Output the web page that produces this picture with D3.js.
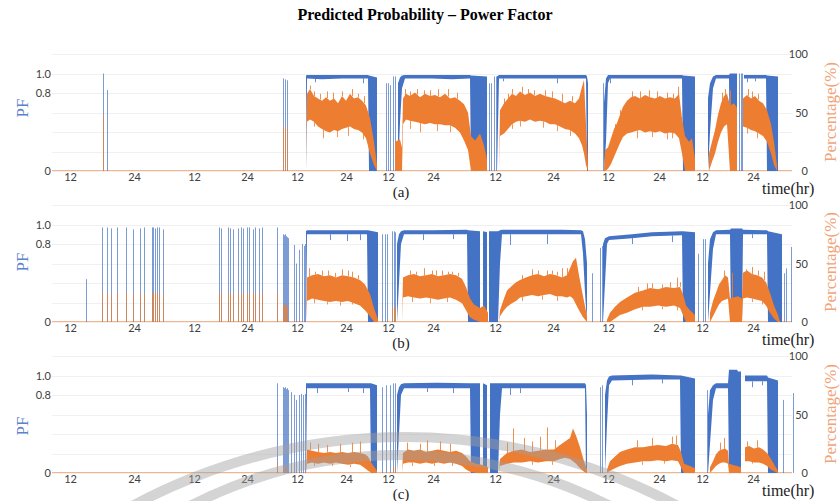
<!DOCTYPE html>
<html>
<head>
<meta charset="utf-8">
<script src="https://cdnjs.cloudflare.com/ajax/libs/d3/7.8.5/d3.min.js"></script>
<style>
  body { margin: 0; background: #fff; }
  .tick text { font-family: Lato, "Open Sans", sans-serif; }
</style>
</head>
<body>
<svg id="chart" width="840" height="501"></svg>
<script>
// x is the sample index (one sample per bin), ticks mark the hour of day
var tickIndex  = [18, 82, 142, 195, 245, 294, 336, 381, 443, 501, 556, 607, 650, 701];
var tickLabels = ["12","24","12","24","12","24","12","24","12","24","12","24","12","24"];
var pfTicks  = [0, 0.8, 1.0];
var pctTicks = [0, 50, 100];

// ---- (a) ----  bands are [sample, low, high], null = no data
var blueBandA = [
  [254,0,0.98],[255,0.95,0.985],[270,0.94,0.985],[290,0.95,0.985],[316,0.95,0.985],[317,0,0.98],[325,0,0.96], null,
  [346,0,0.9],[348,0.5,0.96],[350,0.85,0.98],[353,0.95,0.985],[380,0.95,0.985],[400,0.94,0.985],[418,0.95,0.985],[419,0,0.98],[435,0,0.97], null,
  [445,0,0.97],[447,0.95,0.985],[480,0.95,0.985],[510,0.95,0.985],[534,0.95,0.985],[535,0,0.97],[536,0,0.9], null,
  [552,0,0.7],[554,0.3,0.95],[556,0.9,0.985],[558,0.95,0.985],[600,0.95,0.985],[630,0.95,0.985],[631,0,0.98],[643,0,0.97], null,
  [656,0,0.75],[658,0.4,0.9],[661,0.85,0.97],[664,0.95,0.985],[677,0.95,0.985],[678,0,1.0],[685,0,1.0], null,
  [692,0.95,0.985],[714,0.95,0.985],[715,0,0.98],[726,0,0.97], null
];
var orangeBandA = [
  [254,0,0],[255,42,66],[258,44,70],[262,42,64],[266,38,62],[270,36,60],[274,34,63],[278,33,60],[282,35,62],[286,34,58],[290,36,64],[294,37,60],[298,38,66],[302,36,62],[306,35,63],[310,33,60],[314,28,56],[318,15,45],[322,5,25],[325,0,5], null,
  [343,0,25],[348,0,27],[350,0,20],[351,40,62],[354,44,66],[358,43,64],[363,42,67],[368,41,63],[373,40,66],[378,41,64],[383,40,65],[388,40,63],[393,39,66],[398,39,62],[403,37,63],[408,33,60],[412,26,57],[416,18,50],[419,0,30],[423,0,26],[428,0,32],[432,0,22],[435,0,10], null,
  [447,0,0],[448,30,52],[452,32,58],[456,36,62],[460,40,66],[464,42,64],[468,43,68],[473,42,65],[478,44,67],[483,42,64],[488,43,66],[493,42,64],[498,40,63],[503,40,62],[508,38,60],[513,36,58],[518,35,60],[523,32,58],[527,28,62],[530,22,72],[532,15,78],[534,5,40],[536,0,5], null,
  [552,0,0],[553,0,18],[556,2,20],[559,6,28],[562,12,36],[565,18,41],[568,24,48],[571,29,55],[575,32,60],[579,33,63],[583,34,64],[588,35,62],[593,33,65],[598,34,63],[603,33,62],[608,34,64],[613,32,62],[618,33,63],[623,32,62],[627,28,66],[630,15,45],[633,0,30],[637,0,25],[640,0,28],[643,0,10], null,
  [657,0,15],[660,8,25],[663,15,35],[666,25,48],[669,33,58],[672,38,64],[675,40,66],[678,0,56],[682,0,58],[685,0,54], null,
  [691,38,62],[695,37,65],[699,35,62],[703,34,64],[707,32,60],[711,30,58],[715,25,52],[719,15,40],[722,5,25],[725,0,5], null
];
var blueSpikesA   = [[51,1.0],[55,0.83],[231,0.95],[233,0.94],[235,0.93],[334,0.9],[336,0.9],[338,0.88],[341,0.97],[343,0.97],
                     [437,0.9],[439,0.9],[442,0.97],[444,0.97],[551,0.9],[687,1.0],[689,1.0],[690,1.0]];
var blueDipsA     = [[263,0.91],[311,0.9],[451,0.92],[505,0.9],[558,0.9],[695,0.91],[703,0.92]];
var orangeSpikesA = [[51,48],[231,38],[233,38],[235,36]];
var orangePeaksA  = [[258,73],[262,68],[268,66],[275,68],[281,67],[290,68],[300,70],[306,66],[312,64],[353,70],[358,68],[365,70],[372,69],[378,69],
                     [386,70],[396,70],[405,67],[452,62],[456,66],[460,70],[470,72],[476,70],[482,69],[493,69],[500,68],[510,66],[520,64],
                     [563,40],[568,52],[580,68],[588,68],[597,69],[605,68],[615,67],[621,66],[626,72],[670,67],[673,70],[678,69],[696,70],[700,68],[706,66]];
var orangeDipsA   = [[262,38],[271,28],[285,29],[296,30],[311,27],[358,36],[368,33],[385,34],[398,33],[460,36],[468,38],[491,37],[505,34],[518,30],
                     [585,28],[600,29],[615,27],[620,28],[695,32],[705,28]];

// ---- (b) ----
var blueBandB = [
  [254,0,0.93],[255,0.9,0.94],[285,0.9,0.94],[315,0.9,0.94],[316,0,0.94],[326,0,0.92], null,
  [345,0,0.8],[347,0.4,0.9],[349,0.8,0.93],[352,0.9,0.94],[380,0.9,0.94],[415,0.9,0.945],[416,0,0.94],[428,0,0.93], null,
  [431,0,0.93],[435,0,0.92], null, [437,0,0.93],[446,0,0.93],
  [448,0.6,0.94],[450,0.9,0.945],[480,0.9,0.945],[510,0.9,0.945],[529,0.9,0.94],[531,0.7,0.93],[533,0.3,0.85],[535,0,0.6], null,
  [551,0,0.8],[553,0.4,0.86],[555,0.8,0.87],[557,0.84,0.88],[580,0.86,0.9],[600,0.88,0.92],[630,0.89,0.93],[631,0,0.93],[643,0,0.92], null,
  [656,0,0.6],[658,0.3,0.85],[661,0.75,0.92],[664,0.9,0.94],[678,0.9,0.945],[679,0,0.96],[690,0,0.96],[691,0.9,0.945],[715,0.9,0.94],[716,0,0.93],[730,0,0.9], null
];
var orangeBandB = [
  [254,0,0],[255,18,38],[260,20,40],[266,19,41],[272,18,39],[278,17,40],[284,18,38],[290,17,40],[296,18,39],[302,16,38],[308,14,36],[313,10,32],[318,5,24],[322,0,12],[326,0,2], null,
  [350,0,0],[351,21,38],[356,22,40],[362,21,41],[368,20,39],[374,21,40],[380,20,41],[386,19,39],[392,20,40],[398,21,41],[404,19,40],[410,16,37],[414,10,30],[418,4,20],[422,2,15],[428,0,12],[432,0,14],[436,0,8], null,
  [447,0,0],[448,5,10],[452,10,20],[455,13,27],[460,16,31],[464,18,34],[468,21,36],[474,22,38],[480,23,40],[486,22,41],[492,23,39],[498,24,41],[504,22,40],[510,22,38],[515,21,40],[518,22,46],[521,20,52],[524,15,55],[527,10,40],[531,4,22],[535,0,5], null,
  [555,0,2],[558,0,8],[563,3,13],[568,6,17],[575,8,21],[583,11,25],[591,13,27],[598,13,29],[606,14,28],[614,13,30],[622,14,29],[628,12,30],[631,6,24],[634,0,14],[638,0,10],[643,0,6], null,
  [658,0,8],[661,5,18],[664,10,25],[667,15,32],[670,18,36],[673,19,40],[676,20,38],[678,0,20],[686,0,22],[690,0,20],[691,20,42],[695,21,44],[700,20,41],[705,19,40],[710,18,38],[714,14,34],[718,8,25],[722,3,14],[726,0,6],[728,0,0], null
];
var blueSpikesB = [[34,0.44],[50,0.97],[55,0.97],[59,0.96],[65,0.97],[74,0.97],[81,0.95],[88,0.96],[92,0.97],[100,0.97],[101,0.97],[103,0.96],[105,0.97],[107,0.97],[111,0.95],
  [167,0.97],[169,0.96],[176,0.97],[178,0.96],[181,0.95],[186,0.96],[189,0.97],[191,0.96],[195,0.97],[197,0.97],[201,0.95],[203,0.97],[207,0.96],[210,0.97],[225,0.97],
  [231,0.9],[232,0.89],[233,0.9],[234,0.88],[235,0.87],[236,0.86],[242,0.79],[244,0.6],[247,0.74],[250,0.8],[252,0.78],[253,0.8],
  [330,0.9],[333,0.9],[335,0.9],[340,0.93],[342,0.93],[343,0.92],[540,0.5],[548,0.76],[550,0.78],[646,0.7],[651,0.85],[653,0.85],[732,0.5],[734,0.55],[739,0.77]];
var blueDipsB = [[278,0.84],[295,0.83],[308,0.84],[371,0.84],[401,0.85],[458,0.79],[495,0.8],[580,0.8],[620,0.82],[700,0.86]];
var orangeSpikesB = [[50,25],[55,25],[59,24],[65,25],[74,25],[81,24],[88,25],[92,24],[100,25],[101,25],[103,26],[105,25],[107,24],[111,24],
  [167,25],[169,25],[176,24],[178,25],[181,24],[186,25],[189,24],[191,25],[195,24],[197,25],[201,25],[203,24],[207,25],[210,25],[225,25],
  [231,15],[232,14],[233,16],[234,12],[235,15],[340,13],[342,12],[343,13]];
var orangePeaksB = [[257,46],[263,43],[270,44],[276,44],[283,42],[290,45],[296,44],[300,43],[306,40],[358,44],[364,43],[372,46],[380,44],[384,44],
  [390,44],[396,43],[400,43],[406,42],[470,40],[480,45],[486,44],[495,44],[500,44],[505,43],[510,46],[515,46],
  [586,30],[595,33],[600,33],[610,32],[618,34],[625,38],[628,34],[672,44],[680,42],[694,45],[700,47],[706,44],[712,43]];
var orangeDipsB = [[262,16],[275,15],[288,14],[300,15],[360,17],[378,16],[395,17],[470,18],[490,19],[505,18],[590,10],[610,11],[625,10],[700,17],[710,15]];

// ---- (c) ----
var blueBandC = [
  [254,0,0.92],[255,0.87,0.92],[285,0.87,0.92],[318,0.87,0.92],[319,0,0.92],[325,0,0.9], null,
  [345,0,0.8],[347,0.4,0.88],[349,0.8,0.91],[352,0.87,0.92],[385,0.87,0.925],[418,0.87,0.92],[419,0,0.92],[428,0,0.92], null,
  [431,0,0.92],[435,0,0.9], null, [438,0,0.92],[446,0,0.92],
  [448,0.6,0.92],[450,0.87,0.92],[490,0.87,0.92],[533,0.87,0.92],[534,0,0.9],[535,0,0.6], null,
  [553,0,0.8],[555,0.5,0.95],[557,0.9,0.99],[560,0.95,1.0],[600,0.96,1.01],[628,0.96,1.0],[629,0,1.0],[643,0,0.97], null,
  [656,0,0.6],[658,0.3,0.85],[661,0.75,0.9],[664,0.87,0.92],[676,0.87,0.92],[677,0,1.06],[685,0,1.06],[686,0,1.04],[689,0,1.04], null,
  [693,0.94,1.0],[715,0.94,1.0],[716,0,0.98],[726,0,0.95], null
];
var orangeBandC = [
  [254,0,0],[255,8,20],[260,9,19],[266,8,18],[272,9,17],[278,8,18],[284,9,17],[290,8,18],[296,7,17],[302,8,18],[308,7,17],[313,4,16],[316,2,14],[320,0,8],[325,0,2], null,
  [350,0,0],[351,8,17],[356,9,20],[362,9,19],[368,8,20],[374,9,18],[380,8,19],[386,9,20],[392,8,19],[398,9,18],[404,8,19],[410,6,17],[414,3,14],[418,1,10],[424,0,8],[430,0,7],[436,0,5], null,
  [447,0,0],[448,6,12],[455,8,17],[462,9,19],[470,9,20],[478,10,18],[486,9,19],[494,10,20],[502,10,20],[508,12,24],[513,13,27],[518,12,30],[521,10,38],[524,8,32],[528,4,22],[532,1,10],[535,0,3], null,
  [555,0,3],[558,2,10],[563,4,14],[568,6,18],[575,8,20],[583,9,22],[591,10,22],[598,10,23],[606,11,24],[614,10,23],[620,11,25],[626,10,24],[629,5,18],[632,0,8],[638,0,6],[643,0,4], null,
  [658,0,5],[661,3,10],[664,6,16],[667,8,19],[670,9,20],[673,9,21],[676,8,19],[677,0,8],[685,0,6],[689,0,5], null,
  [693,10,22],[697,10,23],[702,9,21],[707,9,22],[711,8,20],[715,6,17],[719,3,12],[723,1,6],[726,0,2], null
];
var blueSpikesC = [[225,0.92],[231,0.88],[232,0.87],[233,0.88],[234,0.86],[235,0.87],[236,0.85],[239,0.83],[242,0.8],[244,0.75],[247,0.8],[249,0.81],[251,0.8],[253,0.81],
  [330,0.88],[334,0.9],[338,0.9],[341,0.92],[343,0.92],[548,0.88],[550,0.9],[655,0.85],[731,0.75],[741,0.82]];
var blueDipsC = [[265,0.82],[296,0.83],[311,0.82],[375,0.83],[401,0.82],[458,0.8],[468,0.82],[580,0.9],[610,0.92],[700,0.88],[710,0.9]];
var orangeSpikesC = [[225,9],[231,6],[233,5],[235,6],[341,5],[343,6]];
var orangePeaksC = [[258,26],[266,25],[275,24],[288,25],[300,26],[308,27],[355,26],[368,25],[375,28],[388,27],[398,25],
  [455,26],[461,38],[472,30],[480,27],[488,31],[495,39],[503,28],[585,28],[600,30],[620,31],[624,32],[668,26],[672,30],[695,27],[705,28]];
var orangeDipsC = [[262,6],[280,6],[298,5],[360,6],[382,6],[400,6],[480,7],[500,7],[590,7],[612,8],[700,8]];

var BLUE = "#4472c4", ORANGE = "#ed7d31";

var svg = d3.select("#chart");
var x = d3.scaleLinear().domain([0, 740]).range([52, 792]);

svg.append("text")
  .attr("x", 425).attr("y", 20)
  .attr("text-anchor", "middle")
  .attr("font-family", "Liberation Serif, serif")
  .attr("font-weight", "bold").attr("font-size", 16)
  .text("Predicted Probability \u2013 Power Factor");

var panels = [
  {base: 171, cap: "(a)", pfY: 108, pctY: 112, blue: blueBandA, orange: orangeBandA, bs: blueSpikesA, bd: blueDipsA, os: orangeSpikesA, pk: orangePeaksA, od: orangeDipsA},
  {base: 322, cap: "(b)", pfY: 262, pctY: 262, blue: blueBandB, orange: orangeBandB, bs: blueSpikesB, bd: blueDipsB, os: orangeSpikesB, pk: orangePeaksB, od: orangeDipsB},
  {base: 473, cap: "(c)", pfY: 426, pctY: 414, blue: blueBandC, orange: orangeBandC, bs: blueSpikesC, bd: blueDipsC, os: orangeSpikesC, pk: orangePeaksC, od: orangeDipsC}
];

// value of a band edge (k = 1 low, 2 high) at sample s
function bandAt(band, s, k){
  for (var i = 0; i < band.length - 1; i++){
    var a = band[i], b = band[i+1];
    if (a && b && a[0] <= s && b[0] >= s){
      return d3.scaleLinear().domain([a[0], b[0]]).range([a[k], b[k]])(s);
    }
  }
  return 0;
}

function vlines(g, data, y, from, color, opacity){
  g.append("g").selectAll("line")
    .data(data)
    .enter().append("line")
      .attr("x1", function(d){ return x(d[0]) + 0.5; })
      .attr("x2", function(d){ return x(d[0]) + 0.5; })
      .attr("y1", function(d){ return y(from(d)); })
      .attr("y2", function(d){ return y(d[1]); })
      .attr("stroke", color).attr("stroke-opacity", opacity).attr("stroke-width", 1);
}

panels.forEach(function(p){
  var yPF  = d3.scaleLinear().domain([0, 1.2]).range([p.base, p.base - 117]);
  var yPct = d3.scaleLinear().domain([0, 100]).range([p.base, p.base - 117]);
  var g = svg.append("g");

  // faint grid
  g.selectAll("line.grid")
    .data(d3.range(0, 1.21, 0.2))
    .enter().append("line")
      .attr("x1", x(0)).attr("x2", x(740))
      .attr("y1", function(d){ return Math.round(yPF(d)) + 0.5; })
      .attr("y2", function(d){ return Math.round(yPF(d)) + 0.5; })
      .attr("stroke", "#f0f0f0");

  // series sitting at zero
  g.append("line")
    .attr("x1", x(0)).attr("x2", x(740))
    .attr("y1", yPct(0) - 0.5).attr("y2", yPct(0) - 0.5)
    .attr("stroke", "#f6b48a").attr("stroke-width", 1);

  var blueArea = d3.area().defined(function(d){ return d !== null; })
    .x(function(d){ return x(d[0]); })
    .y0(function(d){ return yPF(d[1]); })
    .y1(function(d){ return yPF(d[2]); });
  var orangeArea = d3.area().defined(function(d){ return d !== null; })
    .x(function(d){ return x(d[0]); })
    .y0(function(d){ return yPct(d[1]); })
    .y1(function(d){ return yPct(d[2]); });

  vlines(g, p.bs, yPF, function(){ return 0; }, BLUE, 0.7);
  g.append("path").attr("d", blueArea(p.blue)).attr("fill", BLUE);
  vlines(g, p.bd, yPF, function(d){ return bandAt(p.blue, d[0], 1); }, BLUE, 0.8);

  vlines(g, p.os, yPct, function(){ return 0; }, ORANGE, 0.7);
  g.append("path").attr("d", orangeArea(p.orange)).attr("fill", ORANGE);
  vlines(g, p.pk, yPct, function(d){ return bandAt(p.orange, d[0], 2); }, ORANGE, 0.85);
  vlines(g, p.od, yPct, function(d){ return bandAt(p.orange, d[0], 1); }, ORANGE, 0.8);

  // axes
  var xAxis = g.append("g")
    .attr("transform", "translate(0," + p.base + ")")
    .call(d3.axisBottom(x).tickValues(tickIndex).tickSize(0).tickPadding(2)
      .tickFormat(function(d, i){ return tickLabels[i]; }));
  xAxis.select(".domain").remove();
  xAxis.selectAll("text").attr("font-size", 11).attr("fill", "#404040");

  var yl = g.append("g")
    .attr("transform", "translate(51,0)")
    .call(d3.axisLeft(yPF).tickValues(pfTicks).tickSize(0).tickPadding(0)
      .tickFormat(function(d){ return d === 0 ? "0" : d3.format(".1f")(d); }));
  yl.select(".domain").remove();
  yl.selectAll("text").attr("font-size", 11).attr("fill", "#404040");

  var yr = g.append("g")
    .attr("transform", "translate(808,0)")
    .call(d3.axisLeft(yPct).tickValues(pctTicks).tickSize(0).tickPadding(0));
  yr.select(".domain").remove();
  yr.selectAll("text").attr("font-size", 11).attr("fill", "#404040");

  // axis titles
  g.append("text")
    .attr("transform", "translate(28," + p.pfY + ") rotate(-90)")
    .attr("text-anchor", "middle")
    .attr("font-family", "Liberation Serif, serif").attr("font-size", 17)
    .attr("fill", "#5b82cc")
    .text("PF");
  g.append("text")
    .attr("transform", "translate(836," + p.pctY + ") rotate(-90)")
    .attr("text-anchor", "middle")
    .attr("font-family", "Liberation Serif, serif").attr("font-size", 17)
    .attr("fill", "#f0a478")
    .text("Percentage(%)");
  g.append("text")
    .attr("x", 762).attr("y", p.base + 23)
    .attr("font-family", "Liberation Serif, serif").attr("font-size", 16)
    .attr("fill", "#222")
    .text("time(hr)");
  g.append("text")
    .attr("x", 401).attr("y", p.base + 26)
    .attr("text-anchor", "middle")
    .attr("font-family", "Liberation Serif, serif").attr("font-size", 15)
    .attr("fill", "#222")
    .text(p.cap);
});

// grey watermark arcs over the bottom panel
var wm = svg.append("g").attr("fill", "none").attr("stroke", "#a0a0a0")
  .attr("stroke-opacity", 0.45).attr("stroke-width", 10);
wm.append("circle").attr("cx", 405).attr("cy", 1010).attr("r", 573);
wm.append("circle").attr("cx", 400).attr("cy", 913).attr("r", 458);
</script>
</body>
</html>
